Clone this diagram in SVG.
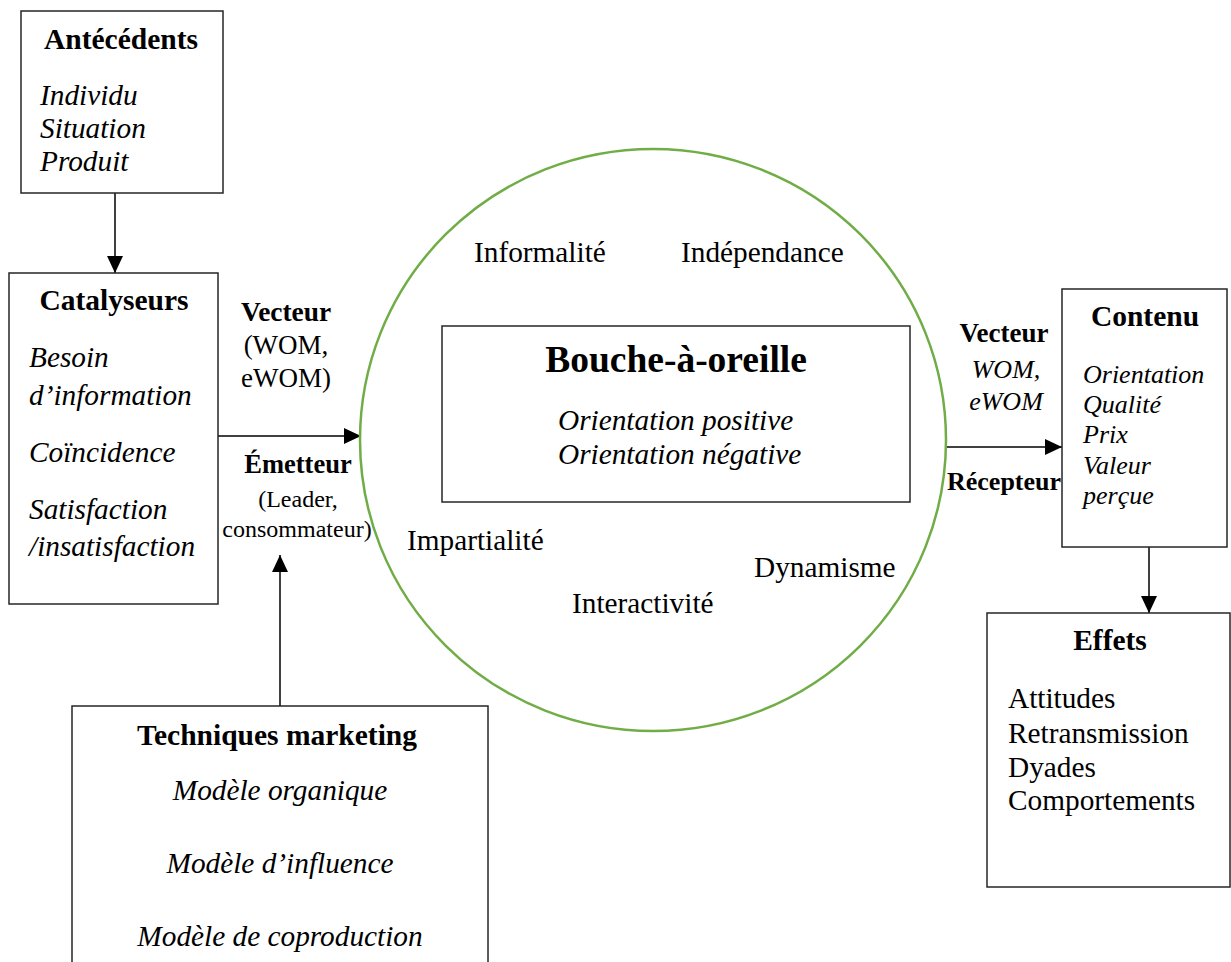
<svg xmlns="http://www.w3.org/2000/svg" width="1231" height="962" viewBox="0 0 1231 962">
<style>
text{font-family:"Liberation Serif","Times New Roman",serif;fill:#000}
.box{fill:#fff;stroke:#262626;stroke-width:1.5}
.t{font-weight:bold;font-size:29.5px;text-anchor:middle}
.i{font-style:italic;font-size:29.3px}
.n{font-size:29.3px}
.c{text-anchor:middle}
.b{font-weight:bold}
.conn{stroke:#000;stroke-width:1.5;fill:none}
</style>
<defs>
<marker id="ah" markerUnits="userSpaceOnUse" markerWidth="18" markerHeight="16" refX="17" refY="8" orient="auto">
<path d="M0,0 L17,8 L0,16 Z" fill="#000"/>
</marker>
</defs>
<rect width="1231" height="962" fill="#fff"/>
<g id="connectors">
<line class="conn" x1="115" y1="193" x2="115" y2="273" marker-end="url(#ah)"/>
<line class="conn" x1="218" y1="436" x2="361" y2="436" marker-end="url(#ah)"/>
<line class="conn" x1="280" y1="706" x2="280" y2="555" marker-end="url(#ah)"/>
<line class="conn" x1="946" y1="447" x2="1062" y2="447" marker-end="url(#ah)"/>
<line class="conn" x1="1149" y1="547" x2="1149" y2="613" marker-end="url(#ah)"/>
</g>
<g id="antecedents">
<rect class="box" x="21" y="11" width="202" height="182"/>
<text class="t" x="121" y="49">Antécédents</text>
<text class="i" x="40" y="105">Individu</text>
<text class="i" x="40" y="138">Situation</text>
<text class="i" x="40" y="171">Produit</text>
</g>
<g id="catalyseurs">
<rect class="box" x="9" y="273" width="209" height="331"/>
<text class="t" x="114" y="310">Catalyseurs</text>
<text class="i" x="29" y="367">Besoin</text>
<text class="i" x="29" y="405">d’information</text>
<text class="i" x="29" y="462">Coïncidence</text>
<text class="i" x="29" y="519">Satisfaction</text>
<text class="i" x="29" y="556">/insatisfaction</text>
</g>
<g id="vecteur-emetteur">
<text class="c b" x="286" y="321" font-size="27.4">Vecteur</text>
<text class="c" x="286" y="354" font-size="27">(WOM,</text>
<text class="c" x="286" y="387" font-size="27">eWOM)</text>
<text class="c b" x="298" y="473" font-size="26.5">Émetteur</text>
<text class="c" x="298" y="507" font-size="24">(Leader,</text>
<text class="c" x="297" y="537" font-size="24">consommateur)</text>
</g>
<g id="techniques">
<rect class="box" x="72" y="706" width="416" height="270"/>
<text class="t" x="277" y="745">Techniques marketing</text>
<text class="i c" x="280" y="800">Modèle organique</text>
<text class="i c" x="280" y="873">Modèle d’influence</text>
<text class="i c" x="280" y="946">Modèle de coproduction</text>
</g>
<g id="bouche-a-oreille">
<ellipse cx="653" cy="440" rx="293" ry="291" fill="none" stroke="#70AD47" stroke-width="2.5"/>
<text class="n" x="474" y="262">Informalité</text>
<text class="n" x="681" y="262">Indépendance</text>
<rect class="box" x="442" y="326" width="468" height="176"/>
<text class="c b" x="676" y="372" font-size="37.5">Bouche-à-oreille</text>
<text class="i" x="558" y="430">Orientation positive</text>
<text class="i" x="558" y="464">Orientation négative</text>
<text class="n" x="407" y="550">Impartialité</text>
<text class="n" x="754" y="577">Dynamisme</text>
<text class="n" x="572" y="613">Interactivité</text>
</g>
<g id="vecteur-recepteur">
<text class="c b" x="1004" y="342" font-size="27">Vecteur</text>
<text class="c" x="1006" y="378" font-size="26" font-style="italic">WOM,</text>
<text class="c" x="1006" y="410" font-size="26" font-style="italic">eWOM</text>
<text class="b" x="947" y="490" font-size="26">Récepteur</text>
</g>
<g id="contenu">
<rect class="box" x="1062" y="289" width="165" height="258"/>
<text class="t" x="1145" y="326">Contenu</text>
<text x="1083" y="383" font-size="26" font-style="italic">Orientation</text>
<text x="1083" y="413" font-size="26" font-style="italic">Qualité</text>
<text x="1083" y="443" font-size="26" font-style="italic">Prix</text>
<text x="1083" y="474" font-size="26" font-style="italic">Valeur</text>
<text x="1083" y="504" font-size="26" font-style="italic">perçue</text>
</g>
<g id="effets">
<rect class="box" x="987" y="613" width="243" height="274"/>
<text class="t" x="1110" y="650">Effets</text>
<text class="n" x="1008" y="708">Attitudes</text>
<text class="n" x="1008" y="743">Retransmission</text>
<text class="n" x="1008" y="777">Dyades</text>
<text class="n" x="1008" y="810">Comportements</text>
</g>
</svg>
